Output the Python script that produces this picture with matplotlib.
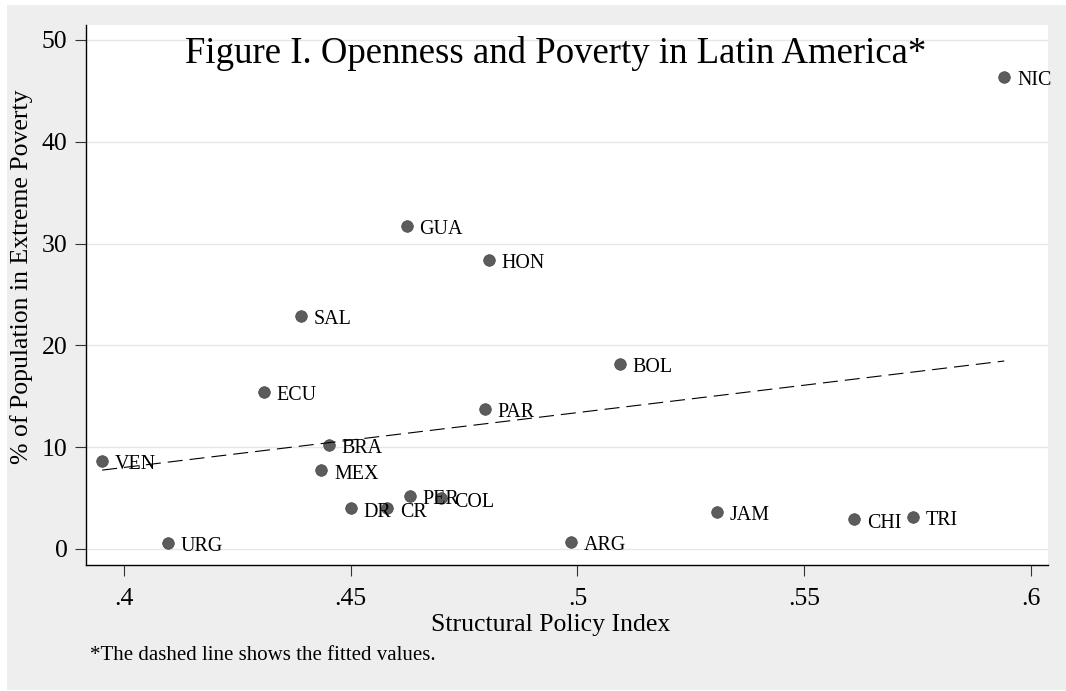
import numpy as np
import matplotlib
matplotlib.use('Agg')
import matplotlib.pyplot as plt
from matplotlib.patches import Rectangle

# ---- data ----
countries = ["NIC", "GUA", "HON", "SAL", "BOL", "ECU", "PAR", "BRA", "VEN", "MEX",
             "PER", "COL", "DR", "CR", "JAM", "CHI", "TRI", "ARG", "URG"]
policy_index = [0.5941, 0.4623, 0.4804, 0.4391, 0.5093, 0.4308, 0.4796, 0.4452, 0.3952, 0.4435,
                0.4630, 0.4700, 0.4500, 0.4581, 0.5308, 0.5610, 0.5739, 0.4985, 0.4096]
poverty_pct = [46.4, 31.76, 28.39, 22.89, 18.17, 15.45, 13.78, 10.2, 8.67, 7.73,
               5.21, 4.98, 4.0, 4.0, 3.67, 2.92, 3.14, 0.69, 0.62]
x_ticks = [0.4, 0.45, 0.5, 0.55, 0.6]
x_tick_labels = [".4", ".45", ".5", ".55", ".6"]
y_ticks = [0, 10, 20, 30, 40, 50]
y_tick_labels = ["0", "10", "20", "30", "40", "50"]

plt.rcParams['font.family'] = ['Liberation Serif', 'DejaVu Serif']

W, H = 1066, 691
fig = plt.figure(figsize=(W / 100, H / 100), dpi=100)
fig.patch.set_facecolor('white')
# light grey graph region
fig.patches.append(Rectangle((7 / W, 1 / H), (W - 7) / W, (690 - 5) / H,
                             transform=fig.transFigure, facecolor='#eeeeee',
                             edgecolor='none', zorder=-10))

ax = fig.add_axes([86 / W, (H - 565) / H, (1048 - 86) / W, (565 - 25) / H])
ax.set_zorder(1)
ax.set_facecolor('white')

x = np.array(policy_index)
y = np.array(poverty_pct)

ax.scatter(x, y, s=70, color='#5c5c5c', edgecolor='#474747', linewidth=0.5, zorder=3)
for c, xi, yi in zip(countries, x, y):
    ax.annotate(c, (xi, yi), xytext=(9.2, -6.0), textcoords='offset points',
                ha='left', va='baseline', fontsize=14.4, color='black', zorder=4)

# fitted values (OLS)
coef = np.polyfit(x, y, 1)
xs = np.array([x.min(), x.max()])
ax.plot(xs, np.polyval(coef, xs), color='black', lw=0.8,
        linestyle=(0, (13.5, 6.3)), zorder=5)

ax.set_xlim(0.39163, 0.60374)
ax.set_ylim(-1.572, 51.47)
ax.set_xticks(x_ticks)
ax.set_xticklabels(x_tick_labels)
ax.set_yticks(y_ticks)
ax.set_yticklabels(y_tick_labels)
ax.tick_params(axis='both', length=8, width=0.8, color='#333333',
               labelsize=18.5, direction='out')
ax.tick_params(axis='x', pad=8.4)
ax.tick_params(axis='y', pad=5.3)

ax.yaxis.grid(True, color='#e6e6e6', lw=1.0)
ax.set_axisbelow(True)
for s in ['top', 'right']:
    ax.spines[s].set_visible(False)
for s in ['left', 'bottom']:
    ax.spines[s].set_color('black')
    ax.spines[s].set_linewidth(1.0)

fig.text(556 / W, (H - 63) / H, "Figure I. Openness and Poverty in Latin America*",
         ha='center', va='baseline', fontsize=26.5, zorder=5)
fig.text(550.5 / W, (H - 631) / H, "Structural Policy Index",
         ha='center', va='baseline', fontsize=18.5)
fig.text(21.5 / W, (H - 277) / H, "% of Population in Extreme Poverty",
         ha='center', va='center', rotation=90, fontsize=18.5)
fig.text(90 / W, (H - 660) / H, "*The dashed line shows the fitted values.",
         ha='left', va='baseline', fontsize=15)

fig.savefig('out.png', dpi=100, facecolor=fig.get_facecolor())
